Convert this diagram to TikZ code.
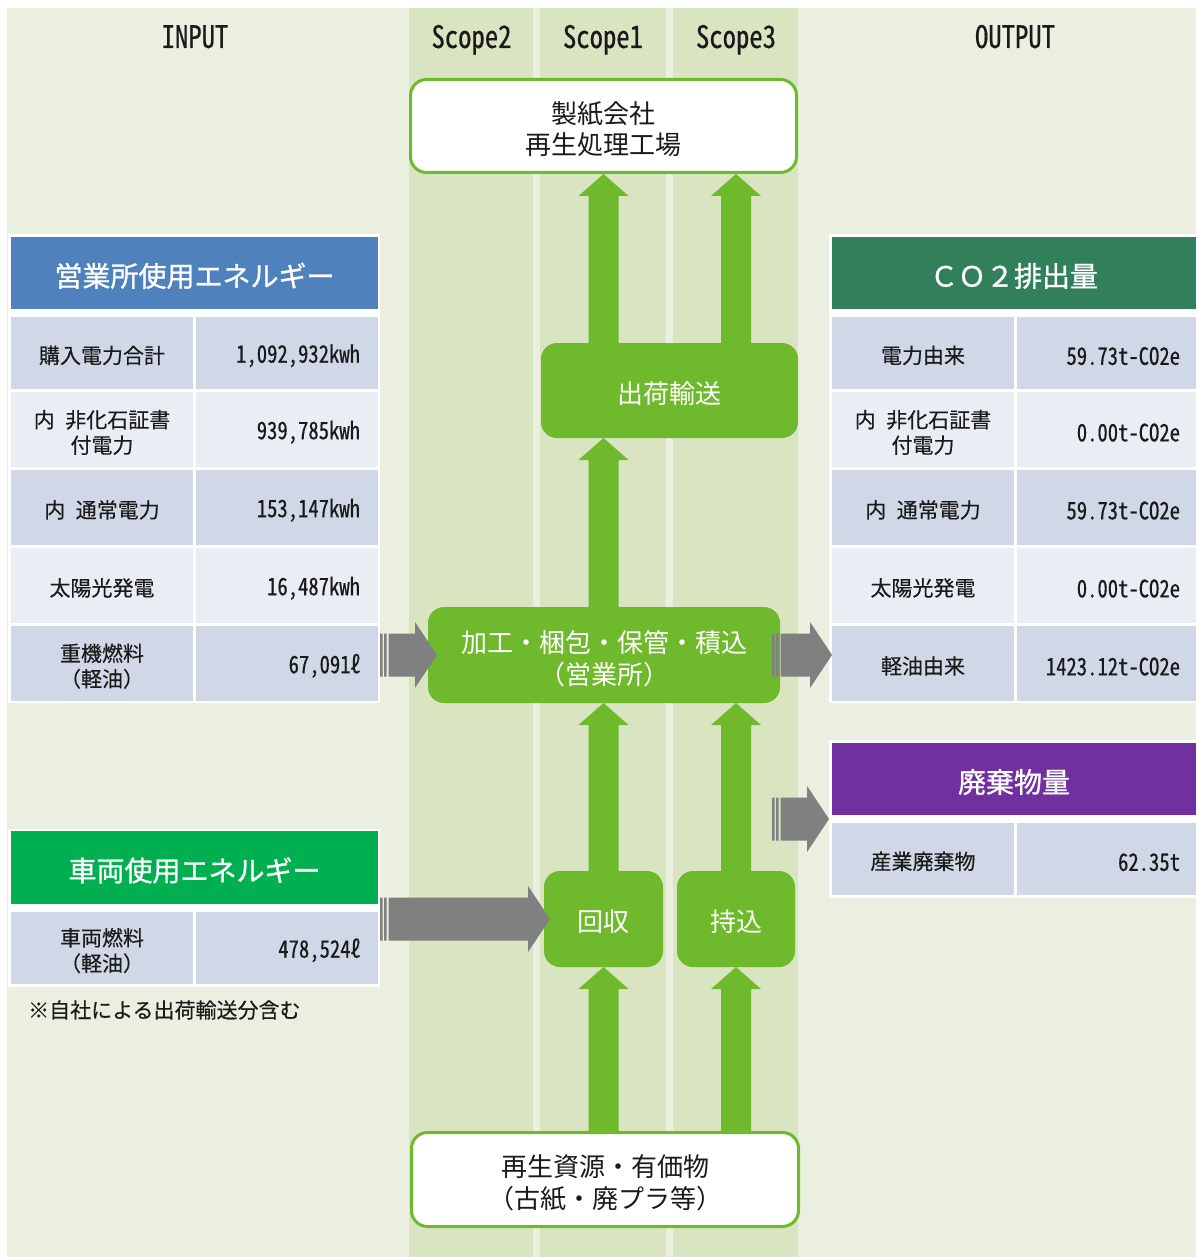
\documentclass[tikz,border=0pt]{standalone}
\usepackage{fontspec}
\setmainfont{Noto Sans CJK JP}
\newfontfamily\numf[RawFeature=+hwid,FakeStretch=0.86,FakeBold=0.4]{Noto Sans CJK JP}
\newfontfamily\hdrf[FakeBold=1]{Noto Sans CJK JP}
\newfontfamily\labf[FakeBold=0.3]{Noto Sans CJK JP}
\usetikzlibrary{calc}
\definecolor{bgL}{HTML}{EBEFDF}
\definecolor{bgS}{HTML}{D9E4C1}
\definecolor{grn}{HTML}{6FB92C}
\definecolor{blueH}{HTML}{4F81BD}
\definecolor{dgH}{HTML}{32805B}
\definecolor{bgH}{HTML}{00B050}
\definecolor{purH}{HTML}{7030A0}
\definecolor{rowD}{HTML}{D0D8E8}
\definecolor{rowL}{HTML}{E9EDF4}
\definecolor{arrG}{HTML}{808080}
\definecolor{txt}{HTML}{1A1A1A}
\newcommand\lift[1]{\rule{0pt}{#1}}
\newcommand\gup[2]{\fill[grn] let \p1=(#1), \p2=(#2) in (\x1-15pt,\y1) -- (\x1-15pt,\y2-22pt) -- (\x1-25pt,\y2-22pt) -- (\x1,\y2) -- (\x1+25pt,\y2-22pt) -- (\x1+15pt,\y2-22pt) -- (\x1+15pt,\y1) -- cycle;}
\newcommand\grarr[2]{\fill[arrG] let \p1=(#1), \p2=(#2) in
 (\x1,\y1-21.5pt) rectangle (\x1+2.7pt,\y1+21.5pt)
 (\x1+4pt,\y1-21.5pt) rectangle (\x1+6.7pt,\y1+21.5pt)
 (\x1+8.5pt,\y1-21.5pt) -- (\x2-22pt,\y1-21.5pt) -- (\x2-22pt,\y1-33pt) -- (\x2,\y1) -- (\x2-22pt,\y1+33pt) -- (\x2-22pt,\y1+21.5pt) -- (\x1+8.5pt,\y1+21.5pt) -- cycle;}
\begin{document}
\begin{tikzpicture}[x=1pt,y=-1pt,
  wframe/.style={fill=white,draw=none,inner sep=0pt,outer sep=0pt},
  labcell/.style={inner sep=0pt,outer sep=0pt,minimum width=182pt,align=center,text=txt,font=\labf\fontsize{21}{25.5}\selectfont},
  valL/.style={inner ysep=0pt,inner xsep=18pt,outer sep=0pt,text width=146pt,align=right,text=txt,font=\numf\fontsize{24}{28}\selectfont},
  valR/.style={valL,inner xsep=16pt,text width=147pt},
  hdr/.style={inner sep=0pt,outer sep=0pt,text=white,font=\hdrf\fontsize{28}{32}\selectfont},
  gbox/.style={fill=grn,rounded corners=16pt,inner sep=0pt,outer sep=0pt,text=white,align=center,font=\fontsize{26}{32}\selectfont},
  wbox/.style={fill=white,draw=grn,line width=3pt,rounded corners=16pt,inner sep=0pt,text=txt,align=center,font=\fontsize{26}{31.5}\selectfont},
  toplab/.style={inner sep=0pt,anchor=base,text=txt,font=\numf\fontsize{31}{36}\selectfont},
  note/.style={inner sep=0pt,anchor=west,text=txt,font=\labf\fontsize{21}{25}\selectfont}]
\useasboundingbox (0,0) rectangle (1196,1257);
\fill[white] (0,0) rectangle (1196,1257);
\fill[bgL] (7,8) rectangle (1196,1257);
\fill[bgS] (409,8) rectangle (533,1257);
\fill[bgS] (540,8) rectangle (666,1257);
\fill[bgS] (673,8) rectangle (798,1257);
% column titles
\node[toplab] (tIn) at (195,48) {INPUT};
\node[toplab] (tS2) at (471.5,48) {Scope2};
\node[toplab] (tS1) at (603,48) {Scope1};
\node[toplab] (tS3) at (736,48) {Scope3};
\node[toplab] (tOut) at (1015,48) {OUTPUT};
% frames
\node[wframe,minimum width=372pt,minimum height=469pt] (frA) at (194,468.5) {};
\node[wframe,minimum width=372pt,minimum height=158pt] (frB) at (194,908) {};
\node[wframe,minimum width=367pt,minimum height=469pt] (frC) at (1012.5,468.5) {};
\node[wframe,minimum width=367pt,minimum height=158pt] (frW) at (1012.5,819) {};
% left table
\node[hdr,fill=blueH,minimum width=367pt,minimum height=72pt] (hA) at (194.5,273) {\lift{29.5pt}営業所使用エネルギー};
\node[labcell,fill=rowD,minimum height=72pt] (a1l) at (102,353) {\lift{22.5pt}購入電力合計};
\node[valL,fill=rowD,minimum height=72pt] (a1v) at (287,353) {\lift{24pt}1,092,932kwh};
\node[labcell,fill=rowL,minimum height=75pt] (a2l) at (102,429.5) {\lift{23.5pt}内\hspace{0.5em}非化石証書\\付電力};
\node[valL,fill=rowL,minimum height=75pt] (a2v) at (287,429.5) {\lift{24pt}939,785kwh};
\node[labcell,fill=rowD,minimum height=75pt] (a3l) at (102,507.5) {\lift{22.5pt}内\hspace{0.5em}通常電力};
\node[valL,fill=rowD,minimum height=75pt] (a3v) at (287,507.5) {\lift{24pt}153,147kwh};
\node[labcell,fill=rowL,minimum height=75pt] (a4l) at (102,585.5) {\lift{22.5pt}太陽光発電};
\node[valL,fill=rowL,minimum height=75pt] (a4v) at (287,585.5) {\lift{24pt}16,487kwh};
\node[labcell,fill=rowD,minimum height=75pt] (a5l) at (102,663.5) {\lift{23pt}重機燃料\\（軽油）};
\node[valL,fill=rowD,minimum height=75pt] (a5v) at (287,663.5) {\lift{24pt}67,091ℓ};
% vehicle table
\node[hdr,fill=bgH,minimum width=367pt,minimum height=73pt] (hB) at (194.5,867.5) {\lift{29.5pt}車両使用エネルギー};
\node[labcell,fill=rowD,minimum height=72pt] (b1l) at (102,948) {\lift{23pt}車両燃料\\（軽油）};
\node[valL,fill=rowD,minimum height=72pt] (b1v) at (287,948) {\lift{24pt}478,524ℓ};
\node[note] (nt) at (28,1010) {※自社による出荷輸送分含む};
% CO2 table
\node[hdr,fill=dgH,minimum width=364pt,minimum height=72pt] (hC) at (1014,273) {\lift{29.5pt}ＣＯ２排出量};
\node[labcell,fill=rowD,minimum height=72pt] (c1l) at (923,353) {\lift{22.5pt}電力由来};
\node[valR,fill=rowD,minimum height=72pt] (c1v) at (1106.5,353) {\lift{24pt}59.73t-CO2e};
\node[labcell,fill=rowL,minimum height=75pt] (c2l) at (923,429.5) {\lift{23.5pt}内\hspace{0.5em}非化石証書\\付電力};
\node[valR,fill=rowL,minimum height=75pt] (c2v) at (1106.5,429.5) {\lift{24pt}0.00t-CO2e};
\node[labcell,fill=rowD,minimum height=75pt] (c3l) at (923,507.5) {\lift{22.5pt}内\hspace{0.5em}通常電力};
\node[valR,fill=rowD,minimum height=75pt] (c3v) at (1106.5,507.5) {\lift{24pt}59.73t-CO2e};
\node[labcell,fill=rowL,minimum height=75pt] (c4l) at (923,585.5) {\lift{22.5pt}太陽光発電};
\node[valR,fill=rowL,minimum height=75pt] (c4v) at (1106.5,585.5) {\lift{24pt}0.00t-CO2e};
\node[labcell,fill=rowD,minimum height=75pt] (c5l) at (923,663.5) {\lift{22.5pt}軽油由来};
\node[valR,fill=rowD,minimum height=75pt] (c5v) at (1106.5,663.5) {\lift{24pt}1423.12t-CO2e};
% waste table
\node[hdr,fill=purH,minimum width=364pt,minimum height=72pt] (hW) at (1014,779) {\lift{29.5pt}廃棄物量};
\node[labcell,fill=rowD,minimum height=72pt] (w1l) at (923,859) {\lift{22.5pt}産業廃棄物};
\node[valR,fill=rowD,minimum height=72pt] (w1v) at (1106.5,859) {\lift{24pt}62.35t};
% process boxes
\node[wbox,minimum width=386pt,minimum height=93pt] (tb) at (603.5,126) {\lift{28.5pt}製紙会社\\再生処理工場};
\node[gbox,minimum width=257pt,minimum height=95pt] (ship) at (669.5,390.5) {\lift{27.8pt}出荷輸送};
\node[gbox,minimum width=352pt,minimum height=96pt] (kako) at (604,655) {\lift{28.5pt}加工・梱包・保管・積込\\（営業所）};
\node[gbox,minimum width=119pt,minimum height=96pt] (kaishu) at (603.5,919) {\lift{27.8pt}回収};
\node[gbox,minimum width=118pt,minimum height=96pt] (mochi) at (736,919) {\lift{27.8pt}持込};
\node[wbox,minimum width=387pt,minimum height=94pt] (bot) at (605,1179.5) {\lift{28.5pt}再生資源・有価物\\（古紙・廃プラ等）};
% green arrows
\gup{bot.north -| kaishu}{kaishu.south}
\gup{bot.north -| mochi}{mochi.south}
\gup{kaishu.north}{kaishu.north |- kako.south}
\gup{mochi.north}{mochi.north |- kako.south}
\gup{kako.north -| kaishu}{kaishu |- ship.south}
\gup{ship.north -| kaishu}{kaishu |- tb.south}
\gup{ship.north -| mochi}{mochi |- tb.south}
% gray arrows
\grarr{frA.east |- kako.west}{$(kako.west)+(9,0)$}
\grarr{$(kako.east)+(-8,0)$}{c5l.west |- kako.east}
\grarr{$(kako.east |- frW.west)+(-8,0)$}{frW.west}
\grarr{frB.east |- kaishu.west}{$(kaishu.west)+(6,0)$}
\end{tikzpicture}
\end{document}
